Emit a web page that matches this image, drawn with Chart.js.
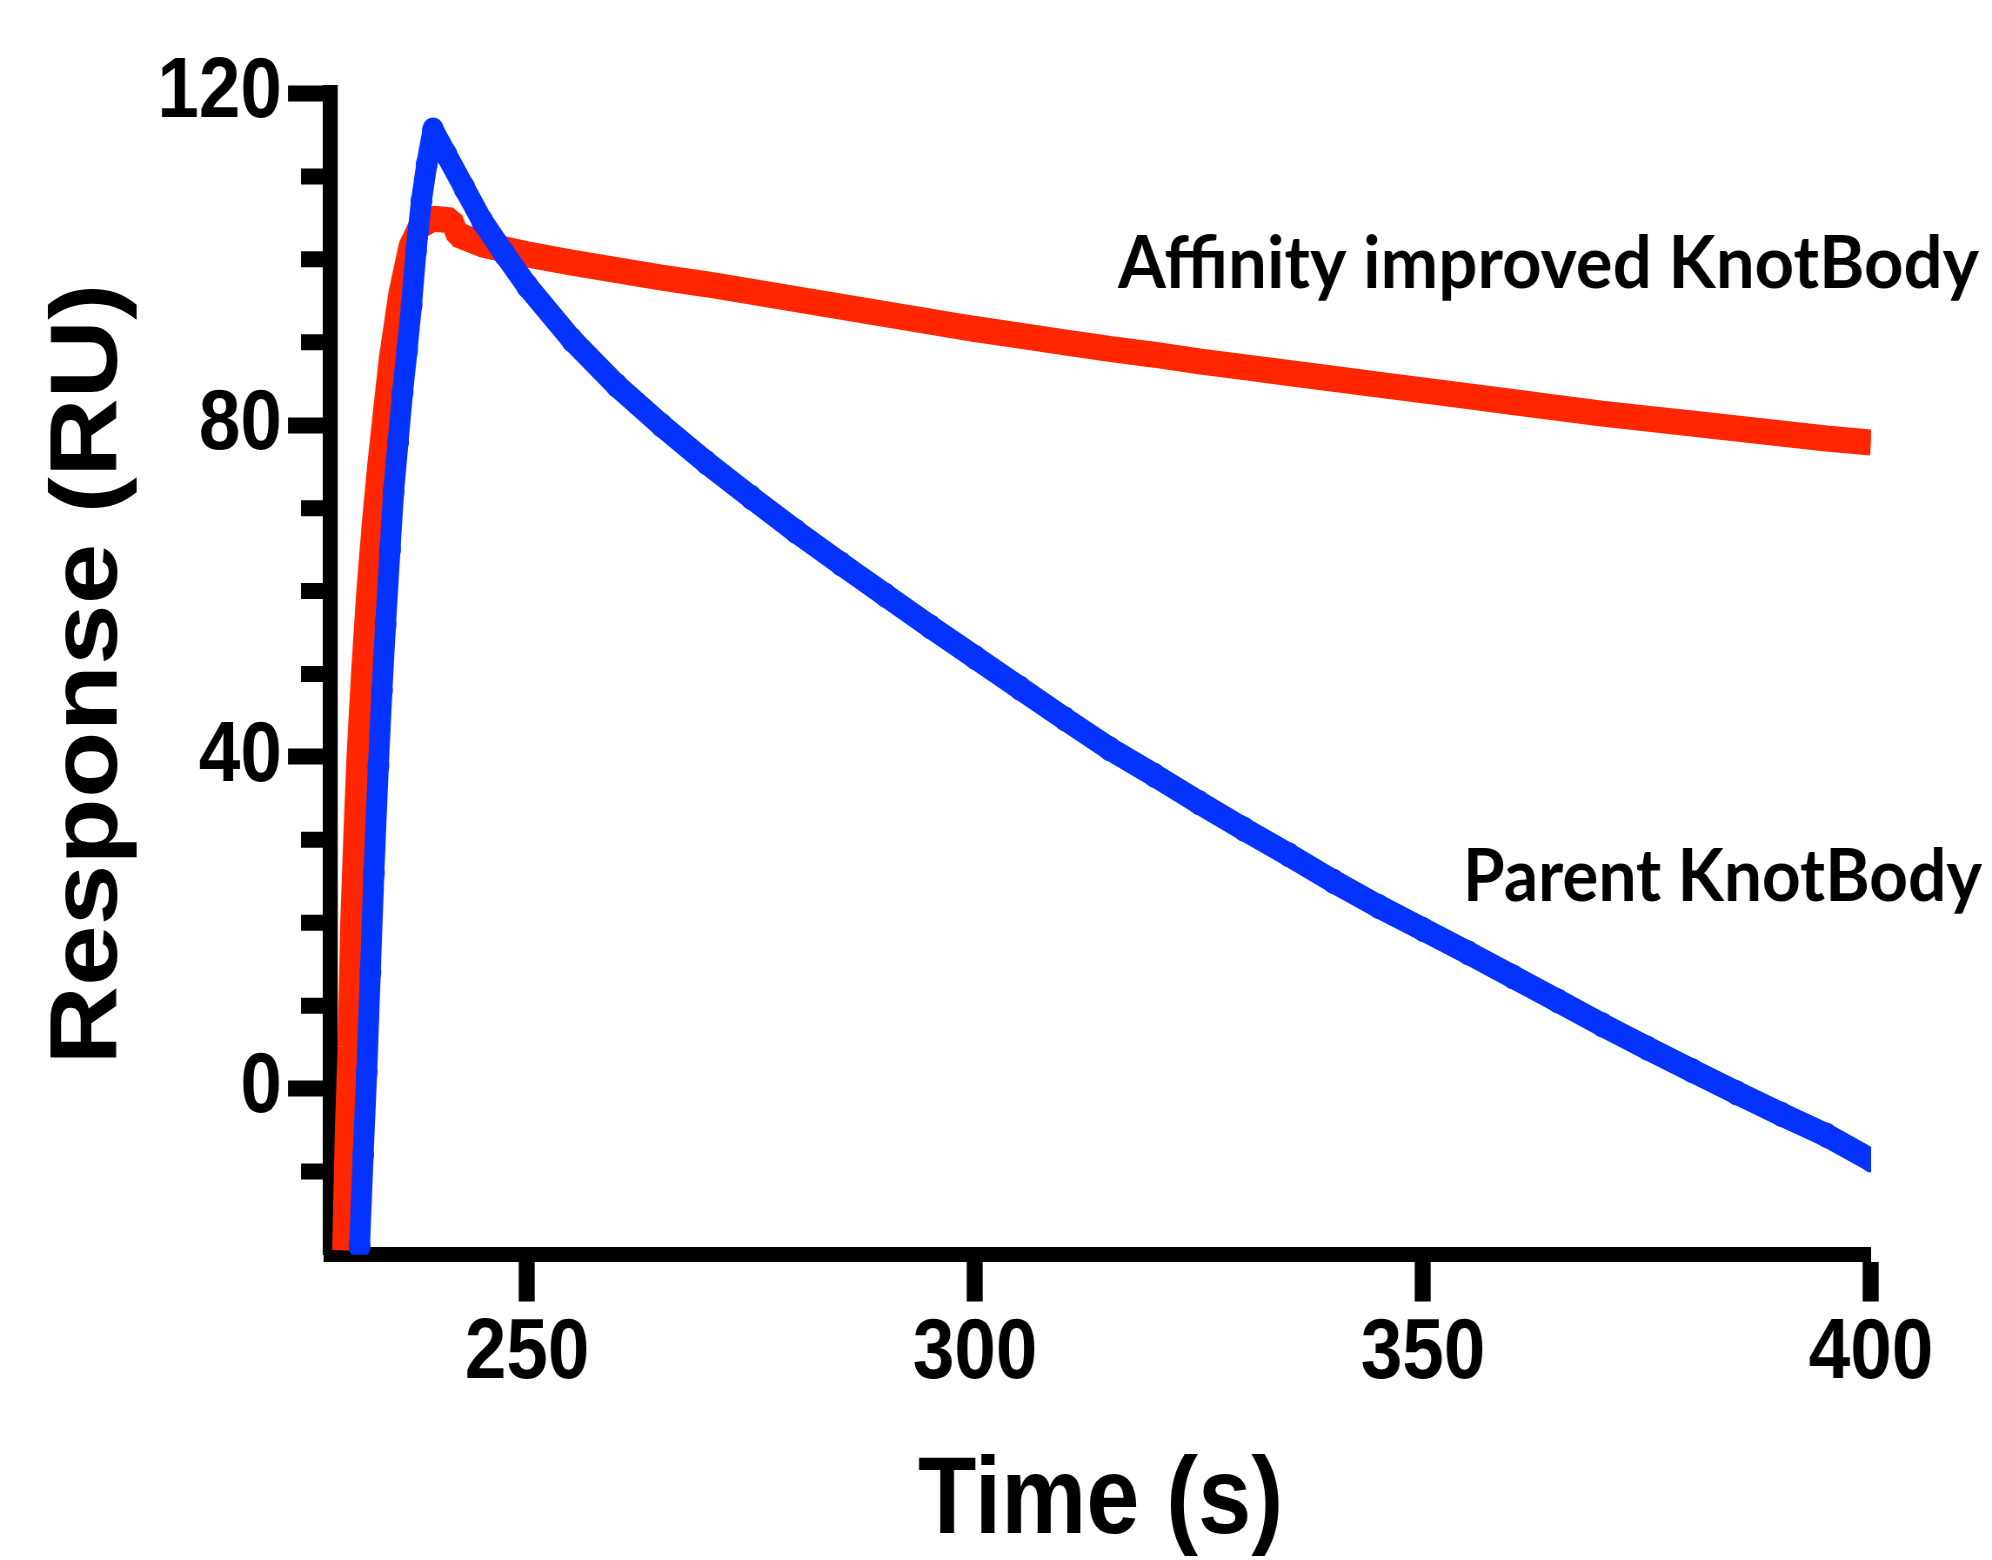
<!DOCTYPE html>
<html>
<head>
<meta charset="utf-8">
<title>KnotBody sensorgram</title>
<script src="https://cdn.jsdelivr.net/npm/chart.js@4.4.0/dist/chart.umd.min.js"></script>
<style>
  html, body { margin: 0; padding: 0; background: #fff; overflow: hidden; }
  canvas { display: block; }
</style>
</head>
<body>
<!-- the original figure is squeezed sideways, so the canvas is drawn wider and shown at 1992px -->
<canvas id="sprChart" width="2290" height="1560" style="width:1992px;height:1560px"></canvas>
<script>
// time (s) and response (RU)
var parentTime = [231.3, 231.7, 232.1, 232.5, 232.9, 233.4, 233.8, 234.2, 234.7, 235.1, 235.6, 236.1,
  236.6, 237.1, 237.6, 238.2, 238.8, 239.5, 241, 243, 245, 247.5, 250, 255, 260, 265, 270, 275,
  280, 285, 290, 295, 300, 305, 310, 315, 320, 325, 330, 335, 340, 345, 350, 355, 360, 365, 370,
  375, 380, 385, 390, 395, 400];
var parentResponse = [-19, -8, 2, 14, 26, 39, 48, 56, 65, 72, 78, 84,
  89, 94.5, 101, 107, 111.5, 115.6, 112.6, 108.6, 104.6, 100.6, 96.8, 90.3, 84.8, 80.0, 75.5, 71.3,
  67.2, 63.3, 59.5, 55.7, 52.0, 48.3, 44.6, 41.0, 37.8, 34.5, 31.3, 28.2, 25.0, 22.0, 19.2, 16.4, 13.5, 10.6, 7.7,
  4.9, 2.2, -0.5, -3.1, -5.6, -8.6];

var improvedTime = [229.5, 229.8, 230.1, 230.4, 230.8, 231.1, 231.6, 232.2, 232.8, 233.4, 234.0, 234.7,
  235.8, 236.9, 238.0, 239.5, 241.6, 242.2, 245, 250, 255, 260, 265, 270, 275, 280, 285, 290, 295,
  300, 305, 310, 315, 320, 325, 330, 335, 340, 345, 350, 355, 360, 365, 370, 375, 380, 385, 390,
  395, 400];
var improvedResponse = [-19.5, -5, 5, 20, 32, 40, 50, 60, 68, 75, 81, 88,
  96, 101.5, 104, 104.9, 104.7, 103, 101.8, 100.6, 99.6, 98.7, 97.8, 97.0, 96.1, 95.2, 94.3, 93.4, 92.5,
  91.6, 90.8, 90.0, 89.2, 88.5, 87.7, 87.0, 86.3, 85.6, 84.9, 84.2, 83.5, 82.8, 82.1, 81.4, 80.8, 80.2, 79.6, 79.0,
  78.4, 77.9];

var xTicks = [250, 300, 350, 400];
var yTicks = [0, 40, 80, 120];
var yMinorTicks = [-10, 10, 20, 30, 50, 60, 70, 90, 100, 110];
var curveLabels = ['Parent KnotBody', 'Affinity improved KnotBody'];

function toPoints(xs, ys) {
  return xs.map(function (x, i) { return { x: x, y: ys[i] }; });
}

var sq = 1992 / 2290;   // sideways squeeze of the shown canvas
var axisFont = "'Liberation Sans', Arial, sans-serif";

// minor ticks on the response axis and the two curve labels
var extras = {
  id: 'extras',
  afterDraw: function (chart) {
    var ctx = chart.ctx;
    var yScale = chart.scales.y;
    var left = chart.chartArea.left;
    ctx.save();
    ctx.strokeStyle = '#000';
    ctx.lineWidth = 16;
    yMinorTicks.forEach(function (v) {
      var py = yScale.getPixelForValue(v);
      ctx.beginPath();
      ctx.moveTo(left - 29 / sq, py);
      ctx.lineTo(left, py);
      ctx.stroke();
    });

    ctx.fillStyle = '#000';
    ctx.font = 'bold 72px Lato';
    ctx.textAlign = 'left';
    ctx.textBaseline = 'alphabetic';
    [[curveLabels[1], 1118, 288, 861], [curveLabels[0], 1463, 901, 519]].forEach(function (t) {
      var w = ctx.measureText(t[0]).width;
      ctx.save();
      ctx.translate(t[1] / sq, t[2]);
      ctx.scale(t[3] / sq / w, 1);
      ctx.fillText(t[0], 0, 0);
      ctx.restore();
    });
    ctx.restore();
  }
};

new Chart(document.getElementById('sprChart'), {
  type: 'line',
  data: {
    datasets: [{
      label: curveLabels[0],
      data: toPoints(parentTime, parentResponse),
      borderColor: '#0433FF',
      backgroundColor: '#0433FF',
      borderWidth: 24,
      borderCapStyle: 'round',
      borderJoinStyle: 'round',
      pointRadius: 12.5,
      pointBorderWidth: 0,
      pointHoverRadius: 12.5,
      tension: 0
    }, {
      label: curveLabels[1],
      data: toPoints(improvedTime, improvedResponse),
      borderColor: '#FF2600',
      backgroundColor: '#FF2600',
      borderWidth: 26,
      borderJoinStyle: 'bevel',
      pointRadius: 0,
      tension: 0
    }]
  },
  options: {
    responsive: false,
    devicePixelRatio: 1,
    animation: false,
    layout: { padding: { top: 93.5, right: 2290 - 1871 / sq, bottom: 0, left: 0 } },
    plugins: { legend: { display: false }, tooltip: { enabled: false } },
    scales: {
      x: {
        type: 'linear',
        min: 228,
        max: 400,
        afterBuildTicks: function (s) { s.ticks = xTicks.map(function (v) { return { value: v }; }); },
        afterFit: function (s) { s.height = 1560 - 1254.5; },
        border: { display: true, color: '#000', width: 15 },
        grid: { drawOnChartArea: false, drawTicks: true, tickLength: 47, tickWidth: 16 / sq, tickColor: '#000' },
        ticks: { color: '#000', padding: 1, maxRotation: 0, autoSkip: false,
          font: { family: axisFont, size: 86, weight: 'bold' } },
        title: { display: true, text: 'Time (s)', color: '#000', padding: { top: 0, bottom: 0 },
          font: { family: axisFont, size: 110, weight: 'bold', lineHeight: 1.05 } }
      },
      y: {
        min: -20,
        max: 120,
        afterBuildTicks: function (s) { s.ticks = yTicks.map(function (v) { return { value: v }; }); },
        afterFit: function (s) { s.width = 330 / sq; },
        border: { display: true, color: '#000', width: 15 / sq },
        grid: { drawOnChartArea: false, drawTicks: true, tickLength: 42 / sq, tickWidth: 16, tickColor: '#000' },
        ticks: { color: '#000', padding: 6 / sq, autoSkip: false,
          font: { family: axisFont, size: 86, weight: 'bold' } },
        title: { display: true, text: 'Response (RU)', color: '#000', padding: { top: 90 / sq - 65.4, bottom: 0 },
          font: { family: axisFont, size: 109, weight: 'bold' } }
      }
    }
  },
  plugins: [extras]
});
</script>
</body>
</html>
